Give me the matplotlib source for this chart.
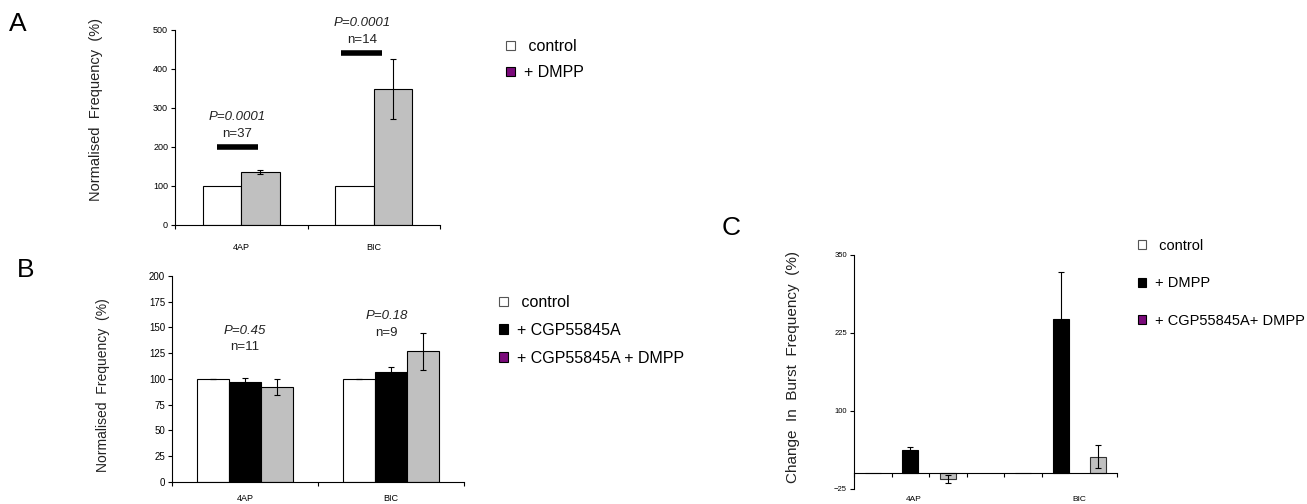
import matplotlib.pyplot as plt
import numpy as np
from matplotlib.patches import Patch

plt.rcParams['font.family'] = ['Liberation Sans', 'DejaVu Sans']

'''
DATA
'''

groups = ['4AP', 'BIC']

# panel A: normalised frequency, control vs + DMPP
a_control = [100, 100]
a_dmpp = [137, 348]
a_dmpp_err = [5, 77]
a_pvals = ['P=0.0001', 'P=0.0001']
a_n = ['n=37', 'n=14']
a_sig_y = [200, 441]

# panel B: control, + CGP55845A, + CGP55845A + DMPP
b_control = [100, 100]
b_control_err = [0, 0]
b_cgp = [97, 107]
b_cgp_err = [4, 5]
b_both = [92, 127]
b_both_err = [8, 18]
b_pvals = ['P=0.45', 'P=0.18']
b_n = ['n=11', 'n=9']
b_text_y = [147, 161]

# panel C: change in burst frequency
c_control = [0, 0]
c_dmpp = [37, 247]
c_dmpp_err = [5, 75]
c_both = [-9, 27]
c_both_err = [7, 19]

a_legend = [' control', '+ DMPP']
b_legend = [' control', '+ CGP55845A', '+ CGP55845A + DMPP']
c_legend = [' control', '+ DMPP', '+ CGP55845A+ DMPP']

GREY = '#c0c0c0'
PURPLE = '#7a0a7a'
ekw = dict(elinewidth=0.8, capsize=2.5, capthick=0.8, ecolor='black')


def style_axes(ax, ticksize):
    for s in ['top', 'right']:
        ax.spines[s].set_visible(False)
    for s in ['left', 'bottom']:
        ax.spines[s].set_linewidth(0.8)
    ax.tick_params(axis='y', labelsize=ticksize, length=3, width=0.8, pad=2)


fig = plt.figure(figsize=(13.07, 5.04), dpi=100)

'''
PANEL A
'''
axA = fig.add_axes([0.1339, 0.5536, 0.2028, 0.3869])
x = np.arange(len(groups))
w = 0.29
axA.bar(x + 0.5 - w / 2, a_control, w, color='white', edgecolor='black', lw=0.8)
axA.bar(x + 0.5 + w / 2, a_dmpp, w, yerr=a_dmpp_err, color=GREY,
        edgecolor='black', lw=0.8, error_kw=ekw)
sig_centers = x + np.array([0.47, 0.41])
for i in range(len(groups)):
    axA.hlines(a_sig_y[i], sig_centers[i] - 0.155, sig_centers[i] + 0.155,
               color='black', lw=4)
    axA.text(sig_centers[i], a_sig_y[i] + 33, a_n[i], ha='center', va='center',
             fontsize=9.5, color='#222222')
    axA.text(sig_centers[i], a_sig_y[i] + 76, a_pvals[i], ha='center', va='center',
             fontsize=9.5, style='italic', color='#222222', clip_on=False)
axA.set_xlim(0, 2)
axA.set_ylim(0, 500)
axA.set_yticks(np.arange(0, 501, 100))
axA.set_xticks(x + 0.5)
axA.set_xticklabels(groups)
axA.set_xticks([0, 1, 2], minor=True)
axA.tick_params(axis='x', which='major', length=0, labelsize=6.5, pad=13)
axA.tick_params(axis='x', which='minor', length=3, width=0.8)
style_axes(axA, 6.5)
axA.set_ylabel('Normalised  Frequency  (%)', fontsize=10.5, color='#222222')
axA.yaxis.set_label_coords(-0.27, 0.59)

'''
PANEL B
'''
axB = fig.add_axes([0.1316, 0.0437, 0.2234, 0.4087])
w = 0.22
axB.bar(x + 0.5 - w, b_control, w, yerr=b_control_err, color='white',
        edgecolor='black', lw=0.8, error_kw=ekw)
axB.bar(x + 0.5, b_cgp, w, yerr=b_cgp_err, color='black', edgecolor='black',
        lw=0.8, error_kw=ekw)
axB.bar(x + 0.5 + w, b_both, w, yerr=b_both_err, color=GREY, edgecolor='black',
        lw=0.8, error_kw=ekw)
text_x = x + np.array([0.5, 0.47])
for i in range(len(groups)):
    axB.text(text_x[i], b_text_y[i], b_pvals[i], ha='center', va='center',
             fontsize=9.5, style='italic', color='#222222')
    axB.text(text_x[i], b_text_y[i] - 16, b_n[i], ha='center', va='center',
             fontsize=9.5, color='#222222')
axB.set_xlim(0, 2)
axB.set_ylim(0, 200)
axB.set_yticks(np.arange(0, 201, 25))
axB.set_xticks(x + 0.5)
axB.set_xticklabels(groups)
axB.set_xticks([0, 1, 2], minor=True)
axB.tick_params(axis='x', which='major', length=0, labelsize=6.5, pad=9)
axB.tick_params(axis='x', which='minor', length=3, width=0.8)
style_axes(axB, 7)
axB.set_ylabel('Normalised  Frequency  (%)', fontsize=10, color='#222222')
axB.yaxis.set_label_coords(-0.214, 0.47)

'''
PANEL C
'''
axC = fig.add_axes([0.6534, 0.0298, 0.2012, 0.4643])
w = 0.42
cx = np.array([0.5, 4.5])
axC.bar(cx, c_control, w, color='white', edgecolor='#555555', lw=0.8)
axC.bar(cx + 1, c_dmpp, w, yerr=c_dmpp_err, color='black', edgecolor='black',
        lw=0.8, error_kw=ekw)
axC.bar(cx + 2, c_both, w, yerr=c_both_err, color=GREY, edgecolor='#333333',
        lw=0.8, error_kw=ekw)
axC.set_xlim(0, 7)
axC.set_ylim(-25, 350)
axC.set_yticks([-25, 100, 225, 350])
axC.spines['bottom'].set_position(('data', 0))
axC.set_xticks([1.6, 6.0])
axC.set_xticklabels(groups)
axC.set_xticks(np.arange(0, 8), minor=True)
axC.tick_params(axis='x', which='major', length=0, labelsize=6, pad=16)
axC.tick_params(axis='x', which='minor', length=3, width=0.8)
style_axes(axC, 5.5)
axC.set_ylabel('Change  In  Burst  Frequency  (%)', fontsize=11, color='#222222')
axC.yaxis.set_label_coords(-0.206, 0.52)

'''
LEGENDS AND PANEL LETTERS
'''
def square(fc, ec='black'):
    return Patch(facecolor=fc, edgecolor=ec, lw=0.8)

leg_kw = dict(loc='upper left', frameon=False, borderpad=0, borderaxespad=0,
              handlelength=0.55, handleheight=0.55, handletextpad=0.6)
fig.legend([square('white', '#555555'), square(PURPLE)], a_legend,
           bbox_to_anchor=(506 / 1307, 1 - 39 / 504), fontsize=11.5,
           labelspacing=0.7, **leg_kw)
fig.legend([square('white', '#555555'), square('black'), square(PURPLE)], b_legend,
           bbox_to_anchor=(499 / 1307, 1 - 295 / 504), fontsize=11.5,
           labelspacing=0.8, **leg_kw)
fig.legend([square('white', '#555555'), square('black'), square(PURPLE)], c_legend,
           bbox_to_anchor=(1138 / 1307, 1 - 239 / 504), fontsize=10.5,
           labelspacing=1.6, **leg_kw)

fig.text(18 / 1307, 1 - 24 / 504, 'A', fontsize=19, ha='center', va='center')
fig.text(26 / 1307, 1 - 270 / 504, 'B', fontsize=19, ha='center', va='center')
fig.text(731 / 1307, 1 - 228 / 504, 'C', fontsize=19, ha='center', va='center')

fig.savefig('out.png', dpi=100)
